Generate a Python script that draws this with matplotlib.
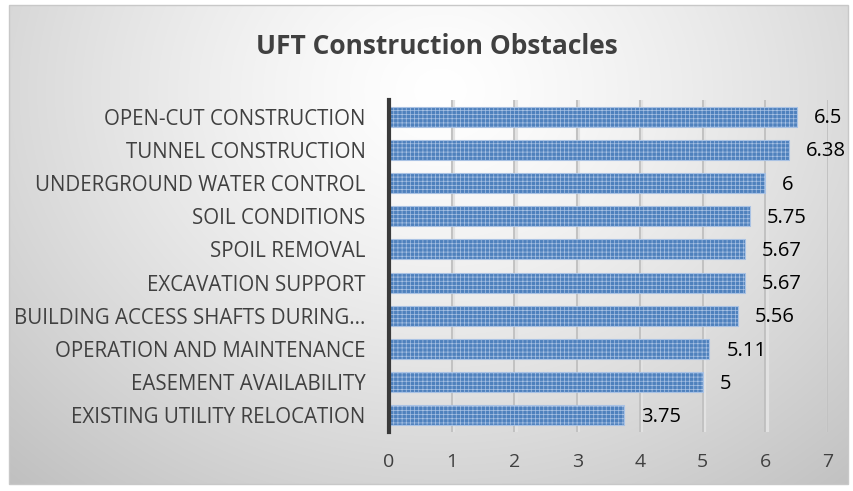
import numpy as np
import matplotlib.pyplot as plt
from matplotlib.patches import Rectangle

plt.rcParams['font.family'] = ['Open Sans', 'DejaVu Sans']
plt.rcParams['hatch.linewidth'] = 0.5
plt.rcParams['hatch.color'] = '#80a4d4'

categories = ['OPEN-CUT CONSTRUCTION', 'TUNNEL CONSTRUCTION', 'UNDERGROUND WATER CONTROL',
              'SOIL CONDITIONS', 'SPOIL REMOVAL', 'EXCAVATION SUPPORT',
              'BUILDING ACCESS SHAFTS DURING...', 'OPERATION AND MAINTENANCE',
              'EASEMENT AVAILABILITY', 'EXISTING UTILITY RELOCATION']
values = [6.5, 6.38, 6, 5.75, 5.67, 5.67, 5.56, 5.11, 5, 3.75]
value_labels = ['6.5', '6.38', '6', '5.75', '5.67', '5.67', '5.56', '5.11', '5', '3.75']
xticks = [0, 1, 2, 3, 4, 5, 6, 7]

W, H = 854, 491
fig = plt.figure(figsize=(W / 100, H / 100), dpi=100)

# radial gradient background for the chart area
bg = fig.add_axes([0, 0, 1, 1], zorder=-10)
bg.set_xlim(0, W)
bg.set_ylim(H, 0)
bg.axis('off')
yy, xx = np.mgrid[0:H, 0:W]
d = np.sqrt(((xx - 440) / 620.0) ** 2 + ((yy - 90) / 520.0) ** 2)
g = np.clip(1.0 - 0.24 * d ** 1.3, 0.74, 1.0)
img = np.dstack([g, g, g])
x0, y0, x1, y1 = 9, 5, 848, 484
bg.imshow(img[y0:y1, x0:x1], extent=(x0, x1, y1, y0), aspect='auto', interpolation='bilinear')
bg.add_patch(Rectangle((x0, y0), x1 - x0, y1 - y0, fill=False, edgecolor='#c8c8c8', lw=1))

# main axes: x 0..7 -> 389..828 px, y 100..432 px
ax = fig.add_axes([389 / W, 1 - 432 / H, (828 - 389) / W, (432 - 100) / H])
ax.patch.set_alpha(0)

pos = np.arange(len(categories))
ax.barh(pos, values, height=0.6, color='#4f81bd', edgecolor='#a9c2e4', linewidth=0.8,
        hatch='++++', zorder=3)
for p, v, lab in zip(pos, values, value_labels):
    ax.text(v + 0.27, p + 0.05, lab, va='center', ha='left', fontsize=14.5, color='#000000', zorder=4)

ax.set_xlim(0, 7)
ax.set_ylim(len(categories) - 0.5, -0.5)
ax.set_xticks(xticks)
ax.set_xticklabels([str(t) for t in xticks], fontsize=14, color='#404040')
ax.set_yticks(pos)
ax.set_yticklabels(categories, fontsize=14.8, color='#404040')
ax.tick_params(axis='both', length=0)
ax.tick_params(axis='x', pad=15)
ax.tick_params(axis='y', pad=17)
for t in xticks[1:]:
    ax.axvline(t + 0.02, color='#e2e2e2', lw=3, zorder=1)
    ax.axvline(t, color='#bcbcbc', lw=1.2, zorder=2)
for s in ['top', 'right', 'bottom']:
    ax.spines[s].set_visible(False)
ax.spines['left'].set_color('#3a3a3a')
ax.spines['left'].set_linewidth(3)
ax.spines['left'].set_zorder(5)

fig.text(437 / W, 1 - 47 / H, 'UFT Construction Obstacles', ha='center', va='center',
         fontsize=19, fontweight='bold', color='#404040')

fig.savefig('out.png', dpi=100)
